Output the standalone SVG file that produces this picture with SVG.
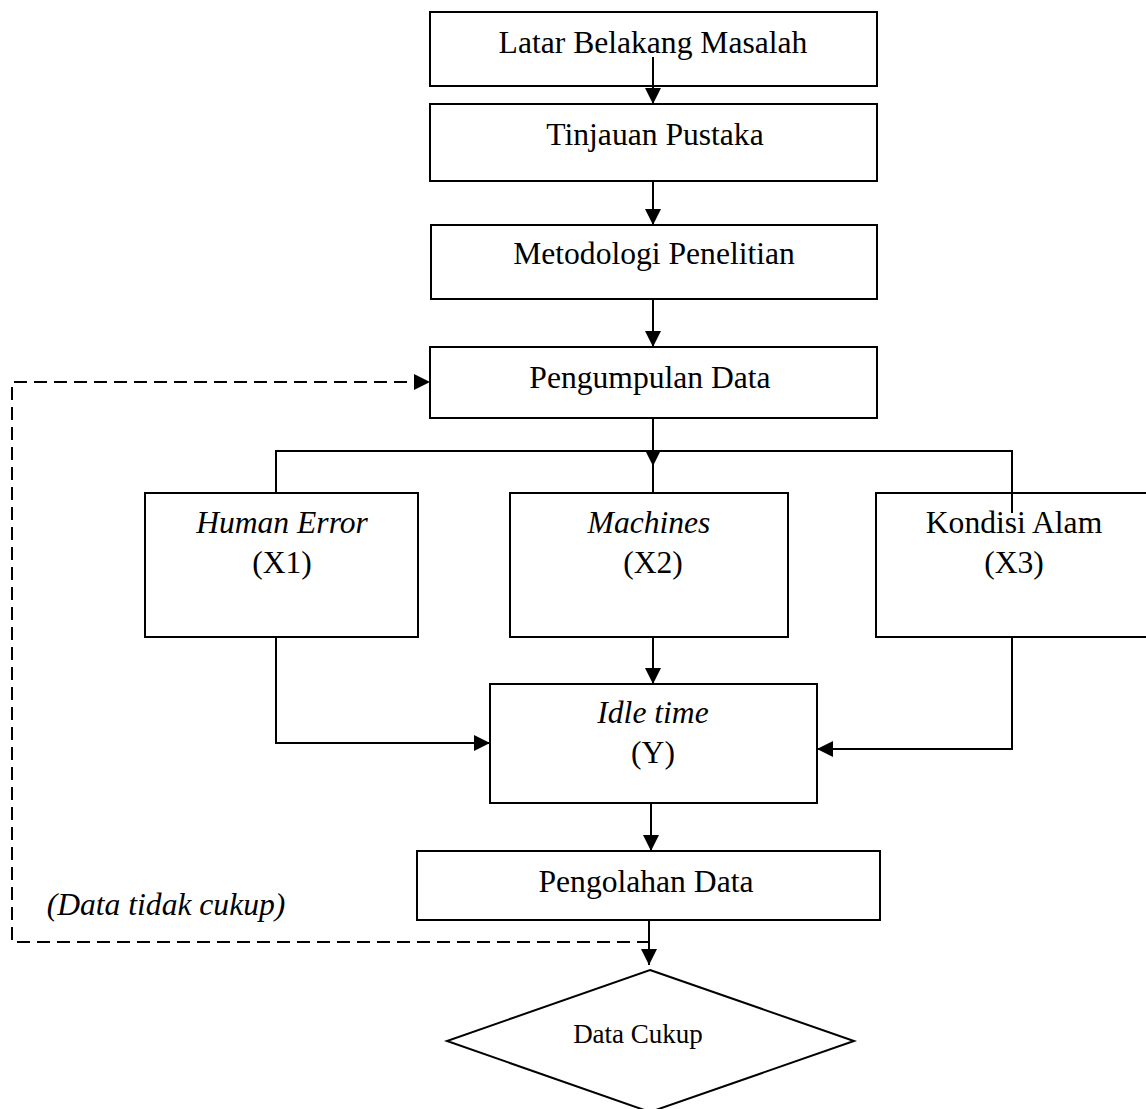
<svg xmlns="http://www.w3.org/2000/svg" width="1146" height="1109" viewBox="0 0 1146 1109">
<defs>
<marker id="arr" markerUnits="userSpaceOnUse" markerWidth="16" markerHeight="16" refX="16" refY="8" orient="auto">
<path d="M0,0 L16,8 L0,16 z" fill="#000"/>
</marker>
<style>
.box{fill:#fff;stroke:#000;stroke-width:2}
.t{font-family:"Liberation Serif","Times New Roman",serif;font-size:31.6px;fill:#000;text-anchor:middle}
.i{font-style:italic}
.ln{fill:none;stroke:#000;stroke-width:2}
.dash{fill:none;stroke:#000;stroke-width:2;stroke-dasharray:13 7}
</style>
</defs>
<rect width="1146" height="1109" fill="#fff"/>
<g id="n1"><rect class="box" x="430" y="12" width="447" height="74"/><text class="t" x="653" y="53">Latar Belakang Masalah</text></g>
<g id="n2"><rect class="box" x="430" y="104" width="447" height="77"/><text class="t" x="655" y="145">Tinjauan Pustaka</text></g>
<g id="n3"><rect class="box" x="431" y="225" width="446" height="74"/><text class="t" x="654" y="264">Metodologi Penelitian</text></g>
<g id="n4"><rect class="box" x="430" y="347" width="447" height="71"/><text class="t" x="650" y="388">Pengumpulan Data</text></g>
<g id="n5"><rect class="box" x="145" y="493" width="273" height="144"/><text class="t i" x="282" y="533">Human Error</text><text class="t" x="282" y="573">(X1)</text></g>
<g id="n6"><rect class="box" x="510" y="493" width="278" height="144"/><text class="t i" x="649" y="533">Machines</text><text class="t" x="653" y="573">(X2)</text></g>
<g id="n7"><rect class="box" x="876" y="493" width="276" height="144"/><text class="t" x="1014" y="533">Kondisi Alam</text><text class="t" x="1014" y="573">(X3)</text></g>
<g id="n8"><rect class="box" x="490" y="684" width="327" height="119"/><text class="t i" x="653" y="723">Idle time</text><text class="t" x="653" y="763">(Y)</text></g>
<g id="n9"><rect class="box" x="417" y="851" width="463" height="69"/><text class="t" x="646" y="892">Pengolahan Data</text></g>
<g id="n10"><polygon class="box" points="650,970 854,1041 650,1112 447,1041"/><text class="t" style="font-size:27px" x="638" y="1043">Data Cukup</text></g>
<g id="edges">
<line class="ln" x1="653" y1="57" x2="653" y2="104" marker-end="url(#arr)"/>
<line class="ln" x1="653" y1="181" x2="653" y2="225" marker-end="url(#arr)"/>
<line class="ln" x1="653" y1="299" x2="653" y2="347" marker-end="url(#arr)"/>
<line class="ln" x1="653" y1="418" x2="653" y2="466" marker-end="url(#arr)"/>
<line class="ln" x1="653" y1="463" x2="653" y2="493"/>
<polyline class="ln" points="276,493 276,451 1012,451 1012,513"/>
<polyline class="ln" points="276,637 276,743 490,743" marker-end="url(#arr)"/>
<line class="ln" x1="653" y1="637" x2="653" y2="684" marker-end="url(#arr)"/>
<polyline class="ln" points="1012,637 1012,749 817,749" marker-end="url(#arr)"/>
<line class="ln" x1="651" y1="803" x2="651" y2="851" marker-end="url(#arr)"/>
<line class="ln" x1="649" y1="920" x2="649" y2="965" marker-end="url(#arr)"/>
<polyline class="dash" points="650,942 12,942 12,382 430,382" marker-end="url(#arr)"/>
<text class="t i" x="166" y="915">(Data tidak cukup)</text>
</g>
</svg>
